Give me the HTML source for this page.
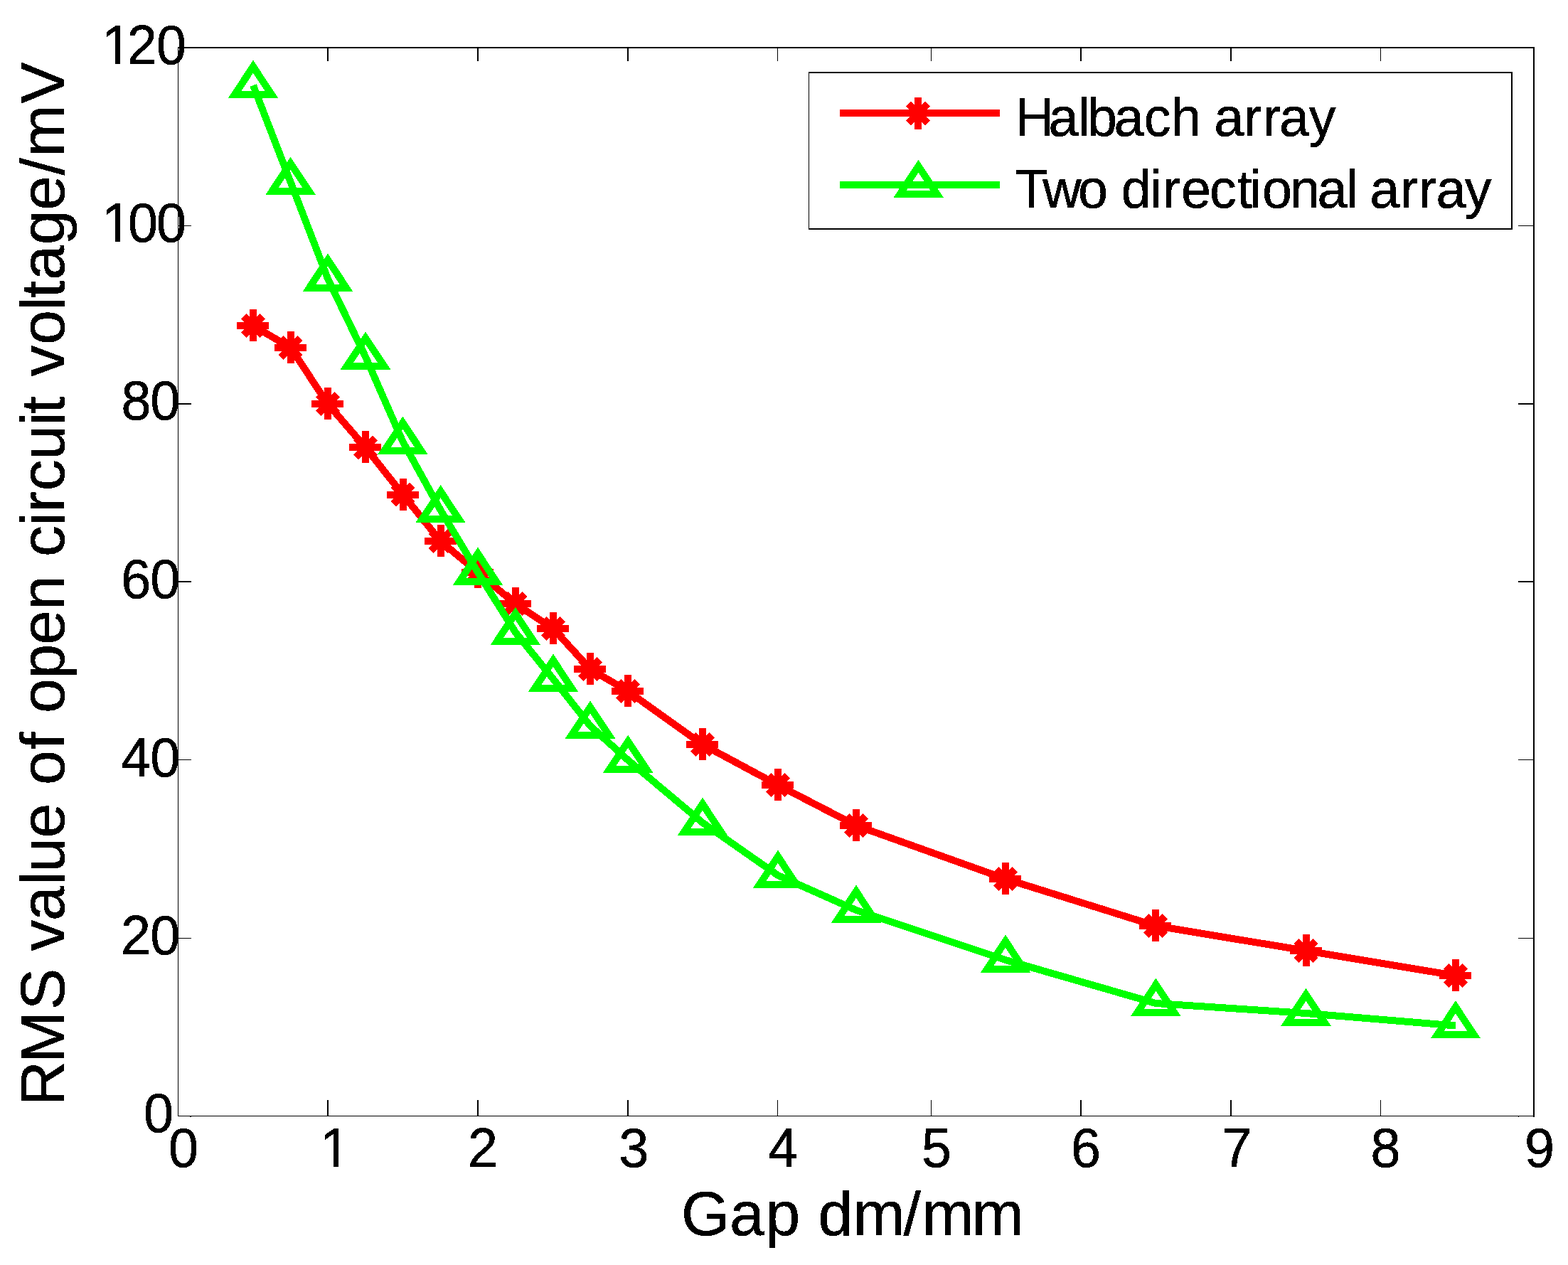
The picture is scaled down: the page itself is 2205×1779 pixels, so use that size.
<!DOCTYPE html>
<html lang="en"><head><meta charset="utf-8"><title>RMS value of open circuit voltage vs gap</title>
<style>html,body{margin:0;padding:0;background:#fff}body{width:2205px;height:1779px;overflow:hidden}svg{display:block}text{font-family:'Liberation Sans', Arial, Helvetica, sans-serif;fill:#000;stroke:#000;stroke-width:0.5px;font-kerning:none}</style></head><body>
<svg width="2205" height="1779" viewBox="0 0 2205 1779">
<rect x="0" y="0" width="2205" height="1779" fill="#fff"/>
<g fill="#000" shape-rendering="crispEdges">
<rect x="250" y="66" width="1908" height="2"/>
<rect x="250" y="1569" width="1908" height="1"/>
<rect x="250" y="66" width="1" height="1504"/>
<rect x="2156" y="66" width="2" height="1505"/>
<rect x="267" y="1570" width="2" height="1"/><rect x="2135" y="1570" width="1" height="1"/>
<rect x="460" y="1547" width="2" height="22"/>
<rect x="460" y="68" width="2" height="18"/>
<rect x="671" y="1547" width="2" height="22"/>
<rect x="671" y="68" width="2" height="18"/>
<rect x="882" y="1547" width="2" height="22"/>
<rect x="882" y="68" width="2" height="18"/>
<rect x="1093" y="1547" width="1" height="22"/>
<rect x="1093" y="68" width="1" height="18"/>
<rect x="1309" y="1547" width="1" height="22"/>
<rect x="1309" y="68" width="1" height="18"/>
<rect x="1519" y="1547" width="2" height="22"/>
<rect x="1519" y="68" width="2" height="18"/>
<rect x="1730" y="1547" width="2" height="22"/>
<rect x="1730" y="68" width="2" height="18"/>
<rect x="1941" y="1547" width="1" height="22"/>
<rect x="1941" y="68" width="1" height="18"/>
<rect x="251" y="1319" width="18" height="1"/>
<rect x="2135" y="1319" width="21" height="1"/>
<rect x="251" y="1068" width="18" height="1"/>
<rect x="2135" y="1068" width="21" height="1"/>
<rect x="251" y="817" width="18" height="2"/>
<rect x="2135" y="817" width="21" height="2"/>
<rect x="251" y="567" width="18" height="2"/>
<rect x="2135" y="567" width="21" height="2"/>
<rect x="251" y="317" width="18" height="1"/>
<rect x="2135" y="317" width="21" height="1"/>
</g>
<g fill="none" stroke="#f00" stroke-width="10" shape-rendering="crispEdges">
<polyline points="356,458 408.7,489 461,568 514,629.4 566.5,695.5 619.6,761 672.3,805.2 724.6,849.1 778,884 830,941 883,972 988,1047 1094,1104 1204,1161 1414,1236 1625,1302 1836.5,1337 2047,1372" stroke-linejoin="round"/>
<path d="M333 458h45M356 435v45M342.6 444.6l26.8 26.8M342.6 471.4l26.8 -26.8M385.7 489h45M408.7 466v45M395.3 475.6l26.8 26.8M395.3 502.4l26.8 -26.8M438 568h45M461 545v45M447.6 554.6l26.8 26.8M447.6 581.4l26.8 -26.8M491 629.4h45M514 606.4v45M500.6 616l26.8 26.8M500.6 642.8l26.8 -26.8M543.5 695.5h45M566.5 672.5v45M553.1 682.1l26.8 26.8M553.1 708.9l26.8 -26.8M596.6 761h45M619.6 738v45M606.2 747.6l26.8 26.8M606.2 774.4l26.8 -26.8M649.3 805.2h45M672.3 782.2v45M658.9 791.8l26.8 26.8M658.9 818.6l26.8 -26.8M701.6 849.1h45M724.6 826.1v45M711.2 835.7l26.8 26.8M711.2 862.5l26.8 -26.8M755 884h45M778 861v45M764.6 870.6l26.8 26.8M764.6 897.4l26.8 -26.8M807 941h45M830 918v45M816.6 927.6l26.8 26.8M816.6 954.4l26.8 -26.8M860 972h45M883 949v45M869.6 958.6l26.8 26.8M869.6 985.4l26.8 -26.8M965 1047h45M988 1024v45M974.6 1033.6l26.8 26.8M974.6 1060.4l26.8 -26.8M1071 1104h45M1094 1081v45M1080.6 1090.6l26.8 26.8M1080.6 1117.4l26.8 -26.8M1181 1161h45M1204 1138v45M1190.6 1147.6l26.8 26.8M1190.6 1174.4l26.8 -26.8M1391 1236h45M1414 1213v45M1400.6 1222.6l26.8 26.8M1400.6 1249.4l26.8 -26.8M1602 1302h45M1625 1279v45M1611.6 1288.6l26.8 26.8M1611.6 1315.4l26.8 -26.8M1813.5 1337h45M1836.5 1314v45M1823.1 1323.6l26.8 26.8M1823.1 1350.4l26.8 -26.8M2024 1372h45M2047 1349v45M2033.6 1358.6l26.8 26.8M2033.6 1385.4l26.8 -26.8"/>
</g>
<g fill="none" stroke="#0f0" stroke-width="10" stroke-miterlimit="10" shape-rendering="crispEdges">
<polyline points="356,120 408.6,256 461,391.9 514,501.8 566.4,621 619.6,717.4 672,805 724.8,889.2 778,955 830,1020.8 883.2,1069 988,1157 1094,1231 1204,1280 1414,1350 1625.4,1411 1836.5,1425 2047,1442.5" stroke-linejoin="round"/>
<path d="M356 93.7L382 132.9L330 132.9ZM408.6 229.7L434.6 268.9L382.6 268.9ZM461 365.6L487 404.8L435 404.8ZM514 475.5L540 514.7L488 514.7ZM566.4 594.7L592.4 633.9L540.4 633.9ZM619.6 691.1L645.6 730.3L593.6 730.3ZM672 778.7L698 817.9L646 817.9ZM724.8 862.9L750.8 902.1L698.8 902.1ZM778 928.7L804 967.9L752 967.9ZM830 994.5L856 1033.7L804 1033.7ZM883.2 1042.7L909.2 1081.9L857.2 1081.9ZM988 1130.7L1014 1169.9L962 1169.9ZM1094 1204.7L1120 1243.9L1068 1243.9ZM1204 1253.7L1230 1292.9L1178 1292.9ZM1414 1323.7L1440 1362.9L1388 1362.9ZM1625.4 1384.7L1651.4 1423.9L1599.4 1423.9ZM1836.5 1398.7L1862.5 1437.9L1810.5 1437.9ZM2047 1416.2L2073 1455.4L2021 1455.4Z"/>
</g>
<g shape-rendering="crispEdges">
<rect x="1137" y="101" width="990" height="222" fill="#fff"/>
<g fill="#000"><rect x="1137" y="101" width="990" height="2"/><rect x="1137" y="321" width="990" height="2"/><rect x="1137" y="101" width="1" height="222"/><rect x="2125" y="101" width="2" height="222"/></g>
<g fill="none" stroke="#f00" stroke-width="10"><path d="M1181 159H1406"/><path d="M1268.5 159.4h45M1291 136.9v45M1277.6 146l26.8 26.8M1277.6 172.8l26.8 -26.8"/></g>
<g fill="none" stroke="#0f0" stroke-width="10" stroke-miterlimit="10"><path d="M1181 260H1406"/><path d="M1291.6 233.7L1317.6 272.9L1265.6 272.9Z"/></g>
</g>
<defs><filter id="bin" x="0" y="0" width="2205" height="1779" filterUnits="userSpaceOnUse" color-interpolation-filters="sRGB"><feComponentTransfer><feFuncA type="discrete" tableValues="0 1"/></feComponentTransfer></filter></defs>
<g filter="url(#bin)">
<g font-size="75.5">
<text x="1427.7 1474.4 1516.2 1529.1 1566.4 1608.8 1646.9 1688.9 1707.3 1749.1 1776 1799.1 1840.7" y="191">Halbach array</text>
<text x="1427.4 1466.2 1516.1 1558.1 1576.8 1617 1635.1 1661 1701 1739.8 1757.2 1774.9 1814 1852.4 1893.2 1910 1926.3 1968.9 1995.1 2019.4 2059.7" y="292">Two directional array</text>
</g>
<defs><clipPath id="one"><path clip-rule="evenodd" d="M-20 -90H160V30H-20ZM-3 -5.9H18.72V3H-3ZM25.95 -5.9H39.6V3H25.95Z"/></clipPath></defs>
<g font-size="75.5">
<text transform="translate(236.95 1641) scale(1 1.03)" x="0" y="0">0</text>
<text transform="translate(450 1641) scale(1 1.03)" x="0" y="0" clip-path="url(#one)">1</text>
<text transform="translate(657.95 1641) scale(1 1.03)" x="0" y="0">2</text>
<text transform="translate(870.13 1641) scale(1 1.03)" x="0" y="0">3</text>
<text transform="translate(1080.3 1641) scale(1 1.03)" x="0" y="0">4</text>
<text transform="translate(1295.93 1641) scale(1 1.03)" x="0" y="0">5</text>
<text transform="translate(1506 1641) scale(1 1.03)" x="0" y="0">6</text>
<text transform="translate(1718.52 1641) scale(1 1.03)" x="0" y="0">7</text>
<text transform="translate(1927.5 1641) scale(1 1.03)" x="0" y="0">8</text>
<text transform="translate(2143.92 1641) scale(1 1.03)" x="0" y="0">9</text>
<text transform="translate(201.95 1592) scale(1 1.03)" x="0" y="0">0</text>
<text transform="translate(170 1342) scale(1 1.03)" x="0 41.2" y="0">20</text>
<text transform="translate(170.2 1092) scale(1 1.03)" x="0 41" y="0">40</text>
<text transform="translate(170.3 841.3) scale(1 1.03)" x="0 40.9" y="0">60</text>
<text transform="translate(170.5 589.7) scale(1 1.03)" x="0 40.7" y="0">80</text>
<text transform="translate(143 340) scale(1 1.03)" x="0 36.9 77" y="0" clip-path="url(#one)">100</text>
<text transform="translate(143 90) scale(1 1.03)" x="0 35.75 77" y="0" clip-path="url(#one)">120</text>
</g>
<g font-size="87.7">
<text x="958.1 1026.1 1076.5 1125.3 1150.5 1199.5 1270.5 1296.4 1366.5" y="1737">Gap dm/mm</text>
<text transform="translate(90 1600) rotate(-90)" x="44.8 105.1 179.8 238.3 262.6 305 355.3 373.3 421.4 470.2 496.1 545.7 570 597.1 645.5 693.2 742.1 790.9 816.9 860.3 879.4 909.8 953.2 1001.2 1018.3 1042.7 1070.4 1115.2 1163.3 1181.1 1206.3 1255.8 1304.2 1353.4 1379.4 1454.2" y="0">RMS value of open circuit voltage/mV</text>
</g>
</g>
</svg></body></html>
